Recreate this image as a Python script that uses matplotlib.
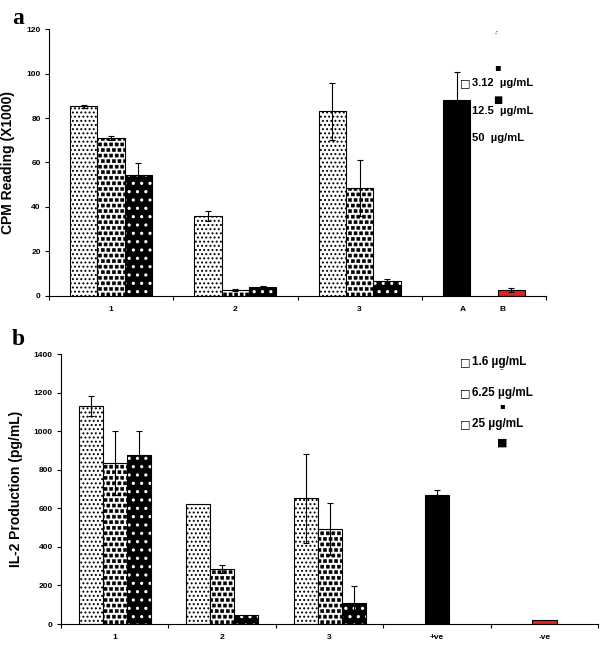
import warnings
import matplotlib.pyplot as plt
import numpy as np
from matplotlib import hatch as mhatch
from matplotlib.path import Path

warnings.filterwarnings('ignore')

plt.rcParams['font.family'] = ['Liberation Sans', 'DejaVu Sans']
plt.rcParams['font.weight'] = 'bold'
plt.rcParams['axes.labelweight'] = 'bold'

# panel a: CPM reading (x1000)
a_groups = ['1', '2', '3']
a_low = [85.2, 36.0, 83.1]
a_low_err = [0.5, 2.3, 12.8]
a_mid = [70.9, 2.5, 48.6]
a_mid_err = [1.0, 0.5, 12.5]
a_high = [54.5, 4.0, 6.6]
a_high_err = [5.4, 0.5, 1.0]
a_ctrl_names = ['A', 'B']
a_ctrl = [88.1, 2.7]
a_ctrl_err = [12.6, 0.9]
a_legend = ['3.12  µg/mL', '12.5  µg/mL', '50  µg/mL']

# panel b: IL-2 production (pg/mL)
b_groups = ['1', '2', '3']
b_low = [1131, 623, 651]
b_low_err = [50, 0, 230]
b_mid = [834, 285, 492]
b_mid_err = [166, 19, 135]
b_high = [876, 47, 109]
b_high_err = [126, 0, 86]
b_ctrl_names = ['+ve', '-ve']
b_ctrl = [667, 22]
b_ctrl_err = [26, 0]
b_legend = ['1.6 µg/mL', '6.25 µg/mL', '25 µg/mL']

RED = '#e5231e'


# filled square dots hatch ('s'), like the excel pattern fill
class SquareDots(mhatch.Shapes):
    size = 0.55
    filled = True

    def __init__(self, hatch, density):
        self.num_rows = hatch.count('s') * density
        path = Path.unit_rectangle()
        self.shape_codes = path.codes
        self.shape_vertices = path.vertices - 0.5
        super().__init__(hatch, density)


mhatch._hatch_types.append(SquareDots)


def pattern_bar(ax, x, h, w, style):
    if style == 0:
        with plt.rc_context({'hatch.linewidth': 0.9}):
            ax.bar(x, h, w, color='white', edgecolor='black', hatch='....', linewidth=0.8, zorder=2)
    elif style == 1:
        with plt.rc_context({'hatch.linewidth': 0.4}):
            ax.bar(x, h, w, color='white', edgecolor='black', hatch='sss', linewidth=0, zorder=2)
        ax.bar(x, h, w, fill=False, edgecolor='black', linewidth=0.8, zorder=3)
    elif style == 2:
        with plt.rc_context({'hatch.linewidth': 1.1}):
            ax.bar(x, h, w, color='black', edgecolor='white', hatch='..', linewidth=0, zorder=2)
        ax.bar(x, h, w, fill=False, edgecolor='black', linewidth=0.8, zorder=3)
    elif style == 3:
        ax.bar(x, h, w, color='black', edgecolor='black', linewidth=0.8, zorder=2)
    else:
        ax.bar(x, h, w, color=RED, edgecolor='black', linewidth=0.8, zorder=2)


def errs(ax, x, y, e):
    x, y, e = np.atleast_1d(x), np.atleast_1d(y), np.atleast_1d(e)
    keep = e > 0
    ax.errorbar(x[keep], y[keep], yerr=e[keep], fmt='none', ecolor='black',
                elinewidth=0.8, capsize=2.5, capthick=0.8, zorder=4)


def style_axes(ax, ncat):
    for s in ['top', 'right']:
        ax.spines[s].set_visible(False)
    ax.spines['left'].set_linewidth(0.8)
    ax.spines['bottom'].set_linewidth(0.8)
    ax.set_xlim(0, ncat)
    ax.set_xticks(np.arange(ncat + 1))
    ax.set_xticklabels([])
    ax.tick_params(axis='x', which='major', direction='out', length=3, width=0.8)
    ax.tick_params(axis='x', which='minor', length=0, labelsize=6, pad=7)
    ax.tick_params(axis='y', direction='out', length=3, width=0.8, labelsize=6, pad=3)


fig = plt.figure(figsize=(6.0, 6.46), dpi=100)

# ---- panel a ----
w = 0.22
axa = fig.add_axes([0.0817, 0.542, 0.8283, 0.413])
xa = np.arange(len(a_groups)) + 0.5
for k, (vals, ev) in enumerate([(a_low, a_low_err), (a_mid, a_mid_err), (a_high, a_high_err)]):
    pattern_bar(axa, xa + (k - 1) * w, vals, w, k)
    errs(axa, xa + (k - 1) * w, vals, ev)
xc = np.array([3.5 - w, 3.5 + w])
pattern_bar(axa, xc[0], a_ctrl[0], w, 3)
pattern_bar(axa, xc[1], a_ctrl[1], w, 4)
errs(axa, xc, a_ctrl, a_ctrl_err)
axa.set_ylim(0, 120)
axa.set_yticks(np.arange(0, 121, 20))
style_axes(axa, 4)
axa.set_xticks(list(xa) + [xc[0] + 0.05, xc[1] - 0.07], minor=True)
axa.set_xticklabels(a_groups + a_ctrl_names, minor=True)
axa.set_ylabel('CPM Reading (X1000)', fontsize=10, fontweight='bold', labelpad=8)

# ---- panel b ----
w = 0.224
axb = fig.add_axes([0.1017, 0.034, 0.8953, 0.418])
xb = np.arange(len(b_groups)) + 0.5
for k, (vals, ev) in enumerate([(b_low, b_low_err), (b_mid, b_mid_err), (b_high, b_high_err)]):
    pattern_bar(axb, xb + (k - 1) * w, vals, w, k)
    errs(axb, xb + (k - 1) * w, vals, ev)
xcb = np.array([3.5, 4.5])
pattern_bar(axb, xcb[0], b_ctrl[0], w, 3)
pattern_bar(axb, xcb[1], b_ctrl[1], w, 4)
errs(axb, xcb, b_ctrl, b_ctrl_err)
axb.set_ylim(0, 1400)
axb.set_yticks(np.arange(0, 1401, 200))
style_axes(axb, 5)
axb.set_xticks(list(xb) + list(xcb), minor=True)
axb.set_xticklabels(b_groups + b_ctrl_names, minor=True)
axb.set_ylabel('IL-2 Production (pg/mL)', fontsize=10, fontweight='bold', labelpad=8)

# panel letters
fig.text(0.02, 0.987, 'a', fontsize=17, fontweight='bold', family='Liberation Serif', va='top')
fig.text(0.02, 0.49, 'b', fontsize=17, fontweight='bold', family='Liberation Serif', va='top')

# broken legends, as in the original
lx = 472 / 600
for i, t in enumerate(a_legend):
    y = 1 - (83 + 27.5 * i) / 646
    fig.text(lx, y, t, fontsize=8, fontweight='bold', va='center')
fig.text(lx - 0.003, 1 - 83 / 646, '□', fontsize=8, ha='right', va='center', family='DejaVu Sans')
fig.text(497 / 600, 1 - 33 / 646, '.·', fontsize=5, ha='center', va='center')
fig.text(497 / 600, 1 - 67 / 646, '▪', fontsize=7, ha='center', va='center', family='DejaVu Sans')
fig.text(498 / 600, 1 - 100 / 646, '■', fontsize=7, ha='center', va='center', family='DejaVu Sans')

for i, t in enumerate(b_legend):
    y = 1 - (362 + 31 * i) / 646
    fig.text(lx, y, t, fontsize=8.5, fontweight='bold', va='center')
    fig.text(lx - 0.003, y, '□', fontsize=8, ha='right', va='center', family='DejaVu Sans')
fig.text(502 / 600, 1 - 371 / 646, '··', fontsize=5, ha='center', va='center')
fig.text(502 / 600, 1 - 406 / 646, '▪', fontsize=6, ha='center', va='center', family='DejaVu Sans')
fig.text(502 / 600, 1 - 443 / 646, '■', fontsize=8, ha='center', va='center', family='DejaVu Sans')

fig.savefig('out.png', dpi=100)
